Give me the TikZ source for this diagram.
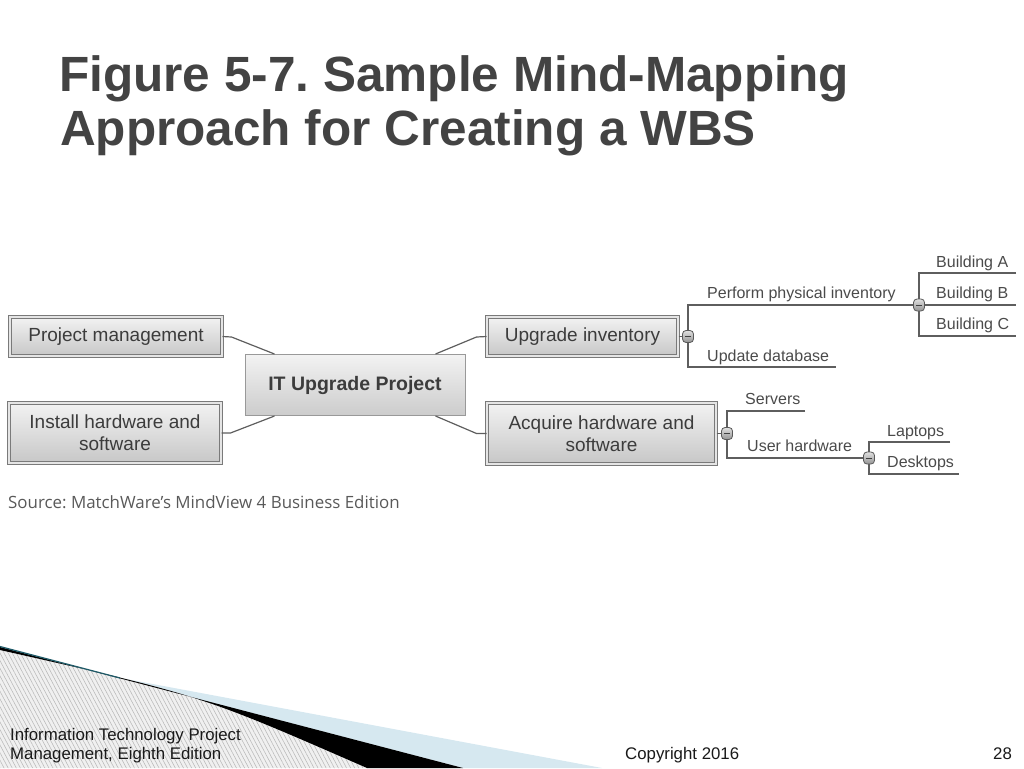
\documentclass[tikz,border=0pt]{standalone}
\usepackage{fontspec}
\setmainfont{Liberation Sans}
\newfontfamily\srcfont{Open Sans}
\usetikzlibrary{patterns.meta,calc}
\definecolor{titlegray}{HTML}{434343}
\definecolor{txt}{HTML}{3C3C3C}
\definecolor{labtxt}{HTML}{4A4A4A}
\definecolor{linegray}{HTML}{5E5E5E}
\definecolor{boxedge}{HTML}{7A7A7A}
\definecolor{lightblue}{HTML}{D6E8F0}
\definecolor{teal}{HTML}{1E5A68}
\frenchspacing
\begin{document}
\begin{tikzpicture}[x=1pt,y=-1pt,
  tbox/.style={draw=boxedge, line width=1pt, double=white!90!black, double distance=1.6pt,
    top color=white!95!black, bottom color=white!78!black, text=txt,
    font=\fontsize{19}{22}\selectfont, inner sep=0pt, align=center},
  cbox/.style={draw=white!60!black, line width=1pt,
    top color=white!95!black, bottom color=white!80!black, text=txt,
    font=\fontsize{19.5}{22}\selectfont\bfseries, inner sep=0pt, align=center},
  tog/.style={draw=white!35!black, line width=0.8pt, rounded corners=3.5pt,
    minimum width=11pt, minimum height=12pt, inner sep=0pt,
    top color=white!88!black, bottom color=white!58!black,
    path picture={\draw[line width=1pt, white!25!black]
      ([xshift=-2.6pt]path picture bounding box.center) --
      ([xshift=2.6pt]path picture bounding box.center);}},
  lab/.style={anchor=base west, inner sep=0pt, text=labtxt, font=\fontsize{16}{19}\selectfont},
  conn/.style={draw=linegray, line width=1.2pt},
  branch/.style={draw=linegray, line width=1.3pt},
  foot/.style={anchor=base west, inner sep=0pt, text=black!90, font=\fontsize{16.8}{19}\selectfont}
]
\useasboundingbox (0,0) rectangle (1024,768);

% ---- footer decoration ----
\fill[lightblue] (110,676) -- (602,768) -- (463,768) -- cycle;
\fill[white!94!black] (0,650) .. controls (200,695) .. (367,768) -- (0,768) -- cycle;
\fill[pattern={Lines[angle=-62, distance=3.6pt, line width=0.55pt]}, pattern color=black!28] (0,650) .. controls (200,695) .. (367,768) -- (0,768) -- cycle;
\fill[black] (0,647) -- (463,768) -- (367,768) .. controls (200,695) .. (0,650) -- cycle;
\draw[teal, line width=1.2pt] (0,646.5) -- (120,678);

% ---- title ----
\node[anchor=base west, inner sep=0pt, text=titlegray, font=\fontsize{49.5}{54}\selectfont\bfseries] (t1) at (59,91) {Figure 5-7. Sample Mind-Mapping};
\node[anchor=base west, inner sep=0pt, text=titlegray, font=\fontsize{49.5}{54}\selectfont\bfseries] (t2) at (60,145) {Approach for Creating a WBS};

% ---- boxes ----
\node[tbox, minimum width=212pt, minimum height=39pt] (pm) at (116,336.5) {Project management};
\node[tbox, minimum width=212pt, minimum height=60pt] (ihs) at (115,433) {Install hardware and\\software};
\node[cbox, minimum width=220pt, minimum height=61pt] (ctr) at (355,385) {IT Upgrade Project};
\node[tbox, minimum width=191pt, minimum height=39pt] (ui) at (582.5,336.5) {Upgrade inventory};
\node[tbox, minimum width=229pt, minimum height=61pt] (ahs) at (601.5,433.5) {Acquire hardware and\\software};

% ---- connectors to centre ----
\draw[conn] (pm.east) -- ++(9,0.5) -- ($(ctr.north west)+(30,0)$);
\draw[conn] (ihs.east) -- ++(9,0) -- ($(ctr.south west)+(30,0)$);
\draw[conn] (ui.west) -- ++(-10,0.5) -- ($(ctr.north east)+(-30,0)$);
\draw[conn] (ahs.west) -- ++(-10,0) -- ($(ctr.south east)+(-30,0)$);

% ---- branch coordinates ----
\coordinate (c1) at (688,336.5);
\coordinate (c2) at (919,305);
\coordinate (c3) at (727,433.5);
\coordinate (c4) at (869,458);
\coordinate (p1) at (688,305);
\coordinate (p1e) at (919,305);
\coordinate (u1) at (688,367);
\coordinate (u1e) at (836,367);
\coordinate (ba) at (919,273);
\coordinate (bae) at (1016,273);
\coordinate (bbe) at (1016,305);
\coordinate (bc) at (919,336);
\coordinate (bce) at (1016,336);
\coordinate (s1) at (727,411);
\coordinate (s1e) at (805,411);
\coordinate (h1) at (727,458);
\coordinate (la) at (869,442);
\coordinate (lae) at (950,442);
\coordinate (de) at (869,474);
\coordinate (dee) at (959,474);

% ---- branches ----
\draw[branch] (ui.east) -- (c1);
\draw[branch] (p1e) -- (p1) -- (c1) -- (u1) -- (u1e);
\draw[branch] (c2) -- (bbe);
\draw[branch] (bae) -- (ba) -- (c2) -- (bc) -- (bce);
\draw[branch] (ahs.east) -- (c3);
\draw[branch] (s1e) -- (s1) -- (c3) -- (h1) -- (c4);
\draw[branch] (lae) -- (la) -- (c4) -- (de) -- (dee);

% ---- toggles ----
\node[tog] (t1g) at (c1) {};
\node[tog] (t2g) at (c2) {};
\node[tog] (t3g) at (c3) {};
\node[tog] (t4g) at (c4) {};

% ---- labels ----
\node[lab] (lpi) at (707,298) {Perform physical inventory};
\node[lab] (lud) at (707,361) {Update database};
\node[lab] (lba) at (936,267) {Building A};
\node[lab] (lbb) at (936,298) {Building B};
\node[lab] (lbc) at (936,329) {Building C};
\node[lab] (lsv) at (745,404) {Servers};
\node[lab] (luh) at (747,451) {User hardware};
\node[lab] (llp) at (887,436) {Laptops};
\node[lab] (ldt) at (887,467) {Desktops};

% ---- source ----
\node[anchor=base west, inner sep=0pt, text=black!65, font=\srcfont\fontsize{16.9}{19}\selectfont] (src) at (8,508) {Source: MatchWare’s MindView 4 Business Edition};

% ---- footer text ----
\node[foot] (f1) at (10,740) {Information Technology Project};
\node[foot] (f2) at (10,759) {Management, Eighth Edition};
\node[foot] (f3) at (625,759) {Copyright 2016};
\node[foot] (f4) at (993,759) {28};
\end{tikzpicture}
\end{document}
